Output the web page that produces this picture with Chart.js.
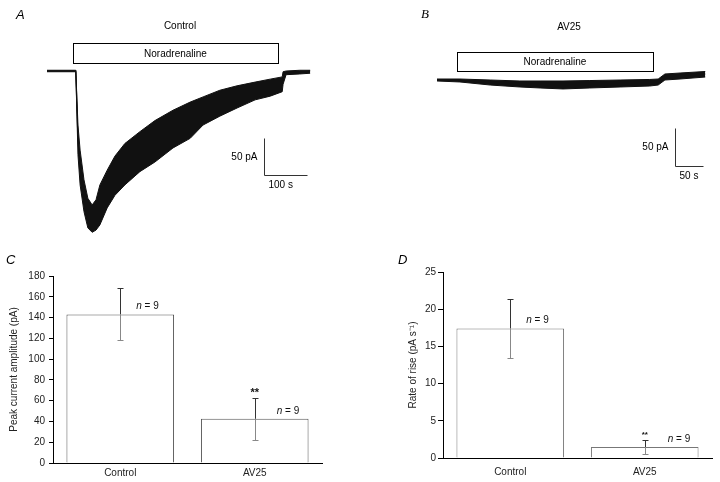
<!DOCTYPE html>
<html><head><meta charset="utf-8">
<script src="https://cdn.jsdelivr.net/npm/chart.js@4"></script>
<style>
html,body{margin:0;padding:0;background:#fff;}
#wrap{position:relative;width:720px;height:482px;overflow:hidden;background:#fff;}
canvas{position:absolute;}
</style></head><body>
<div id="wrap">
<canvas id="cA" width="360" height="250" style="left:0;top:0"></canvas>
<canvas id="cB" width="360" height="250" style="left:360px;top:0"></canvas>
<canvas id="cC" width="360" height="232" style="left:0;top:250px"></canvas>
<canvas id="cD" width="360" height="232" style="left:360px;top:250px"></canvas>
</div>
<script>
// ---------- Panel A: Control trace (time s, current pA) ----------
const traceATime  = [0, 67, 72, 77, 86, 95, 105, 114, 123, 140, 158, 181, 216, 251, 293, 333, 363, 402, 442, 484, 519, 547, 549, 556, 588, 612];
const traceAMean  = [0, 0, -93, -127, -168, -190, -201, -195, -181, -161, -145, -127, -113, -100, -82, -66, -55, -45, -36, -28, -23, -19, -9, -3, -1, 0];
const traceAUpper = [1, 1, -73, -107, -147, -172, -181, -174, -154, -134, -115, -98, -82, -67, -53, -42, -35, -26, -20, -15, -11, -8, -1, 0, 1, 1];
const traceALower = [-1, -1, -113, -154, -190, -212, -218, -215, -208, -185, -168, -154, -136, -123, -104, -91, -73, -61, -50, -39, -34, -28, -18, -5, -4, -3];
const noraA = [60, 537];          // noradrenaline application (s)
const scaleBarA = [100, 50];      // s, pA

// ---------- Panel B: AV25 trace ----------
const traceBTime  = [0, 41, 95, 148, 184, 225, 273, 327, 380, 395, 407, 434, 479];
const traceBMean  = [0, -0.7, -2.6, -3.9, -5.3, -5.3, -4.6, -3.9, -2.6, -2.0, 3.9, 5.3, 7.9];
const traceBUpper = [1.3, 1.3, 0, -1.3, -1.3, -1.3, -0.7, 0, 0.7, 1.3, 7.9, 9.2, 11.2];
const traceBLower = [-1.3, -2.6, -6.6, -9.2, -10.5, -11.8, -10.5, -9.2, -7.9, -6.6, 0, 1.3, 3.9];
const noraB = [36, 386];
const scaleBarB = [50, 50];

// ---------- Panels C, D: bar charts ----------
const barCategories = ['Control', 'AV25'];
const peakMeans = [143, 42.5];
const peakErr   = [25, 20];
const riseMeans = [17.4, 1.47];
const riseErr   = [4.0, 0.9];
const sampleSizes = [9, 9];
const significance = ['', '**'];
const peakTicks = [0, 180, 20];   // min, max, step
const riseTicks = [0, 25, 5];

const FONT = '"Liberation Sans", Arial, sans-serif';
Chart.defaults.font.family = FONT;
Chart.defaults.color = '#222';

function pts(t, v) { return t.map((x, i) => ({x: x, y: v[i]})); }

function traceChart(id, time, mean, upper, lower, xr, yr, draw) {
  return new Chart(document.getElementById(id), {
    type: 'line',
    data: { datasets: [
      { data: pts(time, upper), borderColor: '#111', borderWidth: 1, backgroundColor: '#111', fill: '+1', pointRadius: 0, tension: 0 },
      { data: pts(time, lower), borderColor: '#111', borderWidth: 1, fill: false, pointRadius: 0, tension: 0 },
      { data: pts(time, mean), borderColor: '#000', borderWidth: 1.2, fill: false, pointRadius: 0, tension: 0 }
    ]},
    options: {
      responsive: false, animation: false, devicePixelRatio: 1,
      layout: { padding: 0 },
      plugins: { legend: { display: false }, tooltip: { enabled: false } },
      scales: {
        x: { type: 'linear', min: xr[0], max: xr[1], display: false },
        y: { min: yr[0], max: yr[1], display: false }
      }
    },
    plugins: [{ id: 'ann' + id, afterDraw: draw }]
  });
}

function drawTraceAnn(chart, o) {
  const ctx = chart.ctx, x = chart.scales.x, y = chart.scales.y;
  ctx.save();
  ctx.fillStyle = '#000'; ctx.strokeStyle = '#000'; ctx.lineWidth = 1;
  ctx.textBaseline = 'middle';
  ctx.font = o.letterFont; ctx.textAlign = 'left';
  ctx.fillText(o.letter, o.letterPos[0], o.letterPos[1]);
  ctx.font = '10px ' + FONT; ctx.textAlign = 'center';
  ctx.fillText(o.title, o.titlePos[0], o.titlePos[1]);
  const b0 = Math.round(x.getPixelForValue(o.nora[0])), b1 = Math.round(x.getPixelForValue(o.nora[1]));
  ctx.strokeRect(b0 + 0.5, o.boxY[0] + 0.5, b1 - b0, o.boxY[1] - o.boxY[0]);
  ctx.fillText('Noradrenaline', (b0 + b1) / 2, (o.boxY[0] + o.boxY[1]) / 2 + 1);
  const w = x.getPixelForValue(o.bar[0]) - x.getPixelForValue(0);
  const h = y.getPixelForValue(0) - y.getPixelForValue(o.bar[1]);
  const sx = o.barPos[0] + 0.5, sy = o.barPos[1] + 0.5;
  ctx.strokeStyle = '#333';
  ctx.beginPath(); ctx.moveTo(sx, sy - h); ctx.lineTo(sx, sy); ctx.lineTo(sx + w, sy); ctx.stroke();
  ctx.textAlign = 'right';
  ctx.fillText(o.bar[1] + ' pA', sx - 7, sy - h / 2);
  ctx.textAlign = 'left';
  ctx.fillText(o.bar[0] + ' s', sx + 4, sy + 10);
  ctx.restore();
}

traceChart('cA', traceATime, traceAMean, traceAUpper, traceALower,
  [-47 / 0.43, 313 / 0.43], [-179 / 0.74, 71 / 0.74],
  chart => drawTraceAnn(chart, { letter: 'A', letterFont: 'italic 13px ' + FONT, letterPos: [16, 15],
    title: 'Control', titlePos: [180, 26], nora: noraA, boxY: [43, 63], bar: scaleBarA, barPos: [264, 175] }));

traceChart('cB', traceBTime, traceBMean, traceBUpper, traceBLower,
  [-77 / 0.56, 283 / 0.56], [-170 / 0.76, 80 / 0.76],
  chart => drawTraceAnn(chart, { letter: 'B', letterFont: 'italic 13px "Liberation Serif", serif', letterPos: [61, 15],
    title: 'AV25', titlePos: [209, 27], nora: noraB, boxY: [52, 71], bar: scaleBarB, barPos: [315, 166] }));

function barChart(id, means, errs, ticks, title, o) {
  return new Chart(document.getElementById(id), {
    type: 'bar',
    data: { labels: barCategories, datasets: [{
      data: means, backgroundColor: '#fff', borderColor: o.barColor, borderWidth: 1,
      barPercentage: 0.8, categoryPercentage: 1.0 }] },
    options: {
      responsive: false, animation: false, devicePixelRatio: 1,
      layout: { padding: { top: o.pad[0], right: o.pad[1], bottom: 0, left: 0 } },
      plugins: { legend: { display: false }, tooltip: { enabled: false } },
      scales: {
        x: {
          grid: { display: false, drawTicks: false },
          border: { display: true, color: '#000', width: 1 },
          ticks: { font: { size: 10 }, color: '#222', padding: o.xPad },
          afterFit(s) { s.height = o.xH; }
        },
        y: {
          min: ticks[0], max: ticks[1],
          ticks: { stepSize: ticks[2], font: { size: 10 }, color: '#222', padding: o.tickPad },
          grid: { drawOnChartArea: false, drawTicks: true, tickLength: o.tickLen, color: '#000' },
          border: { display: true, color: '#000', width: 1 },
          title: { display: true, text: title, font: { size: 10 }, color: '#222', padding: { top: o.titleOff, bottom: 0 } },
          afterFit(s) { s.width = o.yW; }
        }
      }
    },
    plugins: [{
      id: 'err' + id,
      afterDraw(chart) {
        const ctx = chart.ctx, meta = chart.getDatasetMeta(0), y = chart.scales.y;
        ctx.save();
        ctx.lineWidth = 1;
        means.forEach((m, i) => {
          const bar = meta.data[i];
          const cx = Math.round(bar.x) + 0.5;
          const yt = Math.round(y.getPixelForValue(m + errs[i])) + 0.5;
          const yb = Math.round(y.getPixelForValue(m - errs[i])) + 0.5;
          const ym = y.getPixelForValue(m);
          ctx.strokeStyle = '#333';
          ctx.beginPath(); ctx.moveTo(cx, yt); ctx.lineTo(cx, ym);
          ctx.moveTo(cx - o.cap, yt); ctx.lineTo(cx + o.cap, yt); ctx.stroke();
          ctx.strokeStyle = '#888';
          ctx.beginPath(); ctx.moveTo(cx, ym); ctx.lineTo(cx, yb);
          ctx.moveTo(cx - o.cap, yb); ctx.lineTo(cx + o.cap, yb); ctx.stroke();
          // n label
          ctx.fillStyle = '#111'; ctx.textBaseline = 'middle'; ctx.textAlign = 'left';
          const nx = bar.x + o.nOff[i], ny = ym - 8;
          ctx.font = 'italic 10px ' + FONT;
          ctx.fillText('n', nx, ny);
          const nw = ctx.measureText('n').width;
          ctx.font = '10px ' + FONT;
          ctx.fillText(' = ' + sampleSizes[i], nx + nw, ny);
          if (significance[i]) {
            ctx.font = o.starFont; ctx.textAlign = 'center';
            ctx.fillText(significance[i], bar.x, yt - 6);
          }
        });
        ctx.font = 'italic 13px ' + FONT; ctx.textAlign = 'left'; ctx.textBaseline = 'middle'; ctx.fillStyle = '#000';
        ctx.fillText(o.letter, o.letterPos[0], o.letterPos[1]);
        ctx.restore();
      }
    }]
  });
}

barChart('cC', peakMeans, peakErr, peakTicks, 'Peak current amplitude (pA)', {
  barColor: '#555', pad: [26, 38], xH: 19, xPad: 4, yW: 53, tickPad: 4, tickLen: 4, titleOff: 8,
  cap: 3, nOff: [16, 22], starFont: 'bold 11px ' + FONT, letter: 'C', letterPos: [6, 10]
});

barChart('cD', riseMeans, riseErr, riseTicks, 'Rate of rise (pA s\u207B\u00B9)', {
  barColor: '#777', pad: [22, 8], xH: 24, xPad: 8, yW: 83, tickPad: 2, tickLen: 5, titleOff: 47,
  cap: 3, nOff: [16, 23], starFont: 'bold 8px ' + FONT, letter: 'D', letterPos: [38, 10]
});
</script>
</body></html>
